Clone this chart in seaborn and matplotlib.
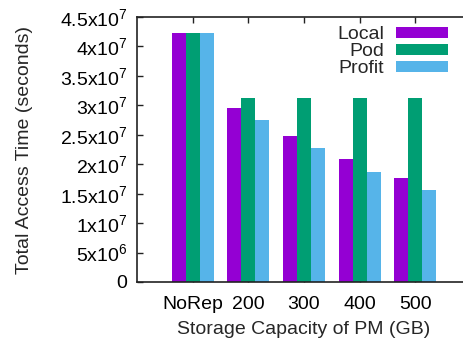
import matplotlib
matplotlib.use("Agg")
import matplotlib.pyplot as plt
import seaborn as sns
import pandas as pd
from matplotlib.ticker import FixedLocator, FuncFormatter

capacities = ["NoRep", "200", "300", "400", "500"]
local_time = [4.23e7, 2.95e7, 2.48e7, 2.09e7, 1.77e7]
pod_time = [4.23e7, 3.12e7, 3.12e7, 3.12e7, 3.12e7]
profit_time = [4.23e7, 2.75e7, 2.28e7, 1.87e7, 1.56e7]
series = ["Local", "Pod", "Profit"]
colors = ["#9400D3", "#009E73", "#56B4E9"]
y_ticks = [0, 5e6, 1e7, 1.5e7, 2e7, 2.5e7, 3e7, 3.5e7, 4e7, 4.5e7]

df = pd.DataFrame({
    "capacity": capacities * 3,
    "time": local_time + pod_time + profit_time,
    "scheme": sum([[s] * len(capacities) for s in series], []),
})

sns.set_style("ticks")
plt.rcParams["font.family"] = ["Liberation Sans", "DejaVu Sans"]
plt.rcParams["mathtext.fontset"] = "custom"
plt.rcParams["mathtext.rm"] = "Liberation Sans"
plt.rcParams["mathtext.it"] = "Liberation Sans"

fs = 14
W, H = 464, 345
fig = plt.figure(figsize=(W / 100, H / 100), dpi=100)
ax = fig.add_axes([137 / W, 1 - 282 / H, 334 / W, 265 / H])

sns.barplot(data=df, x="capacity", y="time", hue="scheme", order=capacities,
            hue_order=series, palette=colors, width=0.75, gap=0,
            saturation=1, linewidth=0, ax=ax)

ax.set_xlim(-1, 5)
ax.set_ylim(0, 4.5e7)


def sci_label(v, pos):
    if v == 0:
        return "0"
    exp = 0
    m = v
    while m >= 10:
        m /= 10
        exp += 1
    return f"{m:g}" + "x10$^{" + str(exp) + "}$"


ax.yaxis.set_major_locator(FixedLocator(y_ticks))
ax.yaxis.set_major_formatter(FuncFormatter(sci_label))

ax.tick_params(axis="both", direction="in", length=4, width=1, labelsize=fs,
               colors="#222222", labelcolor="black")
ax.tick_params(axis="x", top=True, pad=10)
ax.tick_params(axis="y", right=False, pad=7)

for side in ["left", "bottom", "top"]:
    ax.spines[side].set_visible(True)
    ax.spines[side].set_linewidth(1.2)
    ax.spines[side].set_color("#222222")
ax.spines["right"].set_visible(False)

ax.set_xlabel("Storage Capacity of PM (GB)", fontsize=fs, labelpad=6)
ax.set_ylabel("Total Access Time (seconds)", fontsize=fs, labelpad=19)

leg = ax.legend(loc="upper right", bbox_to_anchor=((448 - 137) / 334, 1 - 9 / 265),
                frameon=False, markerfirst=False, fontsize=fs,
                handlelength=2.65, handleheight=0.5, labelspacing=0.0,
                handletextpad=0.62, borderaxespad=0, borderpad=0)

fig.savefig("out.png", dpi=100)
